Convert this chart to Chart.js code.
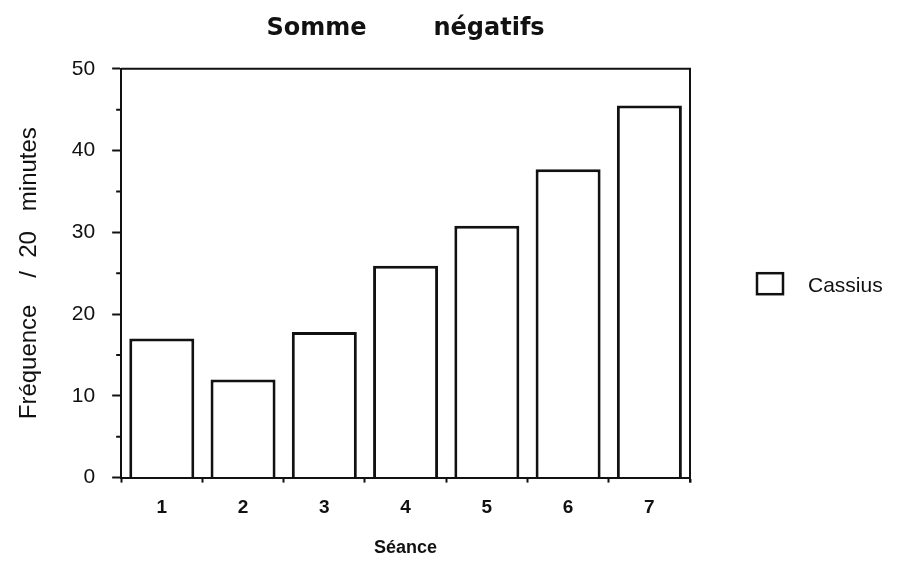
<!DOCTYPE html>
<html>
<head>
<meta charset="utf-8">
<script src="https://cdn.jsdelivr.net/npm/chart.js@4.4.0/dist/chart.umd.min.js"></script>
<style>
  html, body { margin: 0; padding: 0; background: #fff; }
  #cadre { width: 899px; height: 561px; }
</style>
</head>
<body>
<div id="cadre"><canvas id="graphique"></canvas></div>
<script>
// donnees
var seances = ['1', '2', '3', '4', '5', '6', '7'];
var cassius = [17, 12, 17.8, 25.9, 30.8, 37.7, 45.5];
var ticksY = [0, 10, 20, 30, 40, 50];
var ticksMineurs = [5, 15, 25, 35, 45];
var nomSerie = 'Cassius';
var titre = 'Somme        négatifs';
var titreY = 'Fréquence    /  20   minutes';
var titreX = 'Séance';

var noir = '#111';

// cadre haut/droite, petites graduations et legende a droite
var habillage = {
	id : 'habillage',
	afterDraw : function(chart) {
		var ctx = chart.ctx;
		var a = chart.chartArea;
		var echelleY = chart.scales.y;
		ctx.save();
		ctx.strokeStyle = noir;
		ctx.lineWidth = 2;
		ctx.beginPath();
		ctx.moveTo(a.left, a.top);
		ctx.lineTo(a.right, a.top);
		ctx.lineTo(a.right, a.bottom + 5);
		ticksMineurs.forEach(function(v) {
			var py = echelleY.getPixelForValue(v);
			ctx.moveTo(a.left - 5, py);
			ctx.lineTo(a.left, py);
		});
		ctx.stroke();

		// legende
		var bx = a.right + 67;
		var by = (a.top + a.bottom) / 2 + 10;
		ctx.fillStyle = '#fff';
		ctx.lineWidth = 2.5;
		ctx.fillRect(bx, by - 10, 26, 21);
		ctx.strokeRect(bx, by - 10, 26, 21);
		ctx.fillStyle = noir;
		ctx.font = '21px "Liberation Sans", Arial, sans-serif';
		ctx.textAlign = 'left';
		ctx.textBaseline = 'middle';
		ctx.fillText(chart.data.datasets[0].label, bx + 51, by + 3);
		ctx.restore();
	}
};

var graphique = document.getElementById('graphique');

var chart = new Chart(graphique, {
	type : 'bar',
	data : {
		labels : seances,
		datasets : [ {
			label : nomSerie,
			data : cassius,
			backgroundColor : '#fff',
			borderColor : noir,
			borderWidth : 3,
			barPercentage : 0.8,
			categoryPercentage : 1
		} ]
	},
	options : {
		responsive : true,
		maintainAspectRatio : false,
		animation : false,
		layout : {
			padding : { left : 0, right : 209, top : 0, bottom : 0 }
		},
		plugins : {
			legend : { display : false },
			tooltip : { enabled : false },
			title : {
				display : true,
				text : titre,
				fullSize : false,
				color : noir,
				font : { family : '"DejaVu Sans", sans-serif', size : 24, weight : 'bold' },
				padding : { top : 14, bottom : 26 }
			}
		},
		scales : {
			x : {
				grid : {
					drawOnChartArea : false,
					offset : true,
					tickLength : 5,
					tickColor : noir,
					tickWidth : 2
				},
				border : { color : noir, width : 2 },
				ticks : {
					color : noir,
					padding : 14,
					font : { family : '"Liberation Sans", Arial, sans-serif', size : 19, weight : 'bold' }
				},
				title : {
					display : true,
					text : titreX,
					color : noir,
					font : { family : '"Liberation Sans", Arial, sans-serif', size : 18, weight : 'bold' },
					padding : { top : 4, bottom : 2 }
				}
			},
			y : {
				min : 0,
				max : 50,
				afterBuildTicks : function(scale) {
					scale.ticks = ticksY.map(function(v) { return { value : v }; });
				},
				grid : {
					drawOnChartArea : false,
					tickLength : 9,
					tickColor : noir,
					tickWidth : 2
				},
				border : { color : noir, width : 2 },
				ticks : {
					color : noir,
					padding : 17,
					font : { family : '"Liberation Sans", Arial, sans-serif', size : 21 }
				},
				title : {
					display : true,
					text : titreY,
					color : noir,
					font : { family : '"Liberation Sans", Arial, sans-serif', size : 24 },
					padding : { top : 15, bottom : 11 }
				}
			}
		}
	},
	plugins : [ habillage ]
});
</script>
</body>
</html>
